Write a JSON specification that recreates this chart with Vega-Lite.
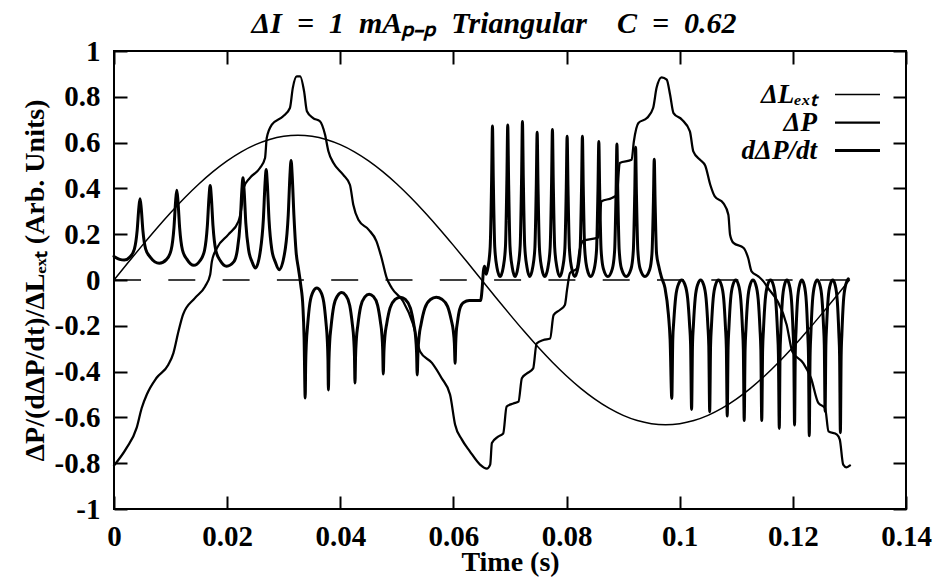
{
  "$schema": "https://vega.github.io/schema/vega-lite/v6.json",
  "width": 792,
  "height": 458,
  "autosize": {"type": "none"},
  "padding": {"left": 114, "top": 51, "right": 29, "bottom": 72},
  "background": "white",
  "title": {
    "text": "ΔI\u2002=\u20021\u2002mAₚ₋ₚ\u2002Triangular\u2003C\u2002=\u20020.62",
    "font": "Liberation Serif",
    "fontSize": 30,
    "fontStyle": "italic",
    "fontWeight": "bold",
    "color": "black",
    "frame": "group",
    "anchor": "middle",
    "dx": -16,
    "offset": -2
  },
  "config": {
    "view": {"stroke": "black", "strokeWidth": 2},
    "axis": {
      "domain": false,
      "grid": false,
      "ticks": true,
      "tickColor": "black",
      "tickWidth": 2,
      "tickSize": -13,
      "labelFont": "Liberation Serif",
      "labelFontWeight": "bold",
      "labelFontSize": 29,
      "labelColor": "black",
      "labelFlush": false,
      "labelOverlap": false,
      "labelBound": false,
      "titleFont": "Liberation Serif",
      "titleFontWeight": "bold",
      "titleFontSize": 28,
      "titleColor": "black"
    },
    "legend": {
      "orient": "top-right",
      "offset": 20,
      "padding": 0,
      "symbolType": "M-2,0H2",
      "symbolSize": 506,
      "symbolStrokeColor": "black",
      "labelFont": "Liberation Serif",
      "labelFontSize": 27,
      "labelFontStyle": "italic",
      "labelFontWeight": "bold",
      "labelColor": "black",
      "labelAlign": "right",
      "labelOffset": -54,
      "rowPadding": 0,
      "titleFontSize": 9,
      "titlePadding": 1
    }
  },
  "layer": [
    {
      "data": {"values": [{}]},
      "mark": {"type": "rule", "color": "black", "strokeWidth": 1.6, "strokeDash": [27, 27.3]},
      "encoding": {
        "x": {
          "datum": 0,
          "type": "quantitative",
          "scale": {"domain": [0, 0.14], "nice": false, "zero": false},
          "axis": {"orient": "top", "labels": false, "title": null, "values": [0, 0.02, 0.04, 0.06, 0.08, 0.1, 0.12, 0.14]}
        },
        "x2": {"datum": 0.13},
        "y": {
          "datum": 0,
          "type": "quantitative",
          "scale": {"domain": [-1, 1], "nice": false},
          "axis": {"orient": "right", "labels": false, "title": null, "values": [-1, -0.8, -0.6, -0.4, -0.2, 0, 0.2, 0.4, 0.6, 0.8, 1]}
        }
      }
    },
    {
      "data": {
        "values": [
          {"s": "ΔLₑₓₜ", "t": 0, "v": 0},
          {"s": "ΔLₑₓₜ", "t": 0.0025, "v": 0.0762},
          {"s": "ΔLₑₓₜ", "t": 0.005, "v": 0.1512},
          {"s": "ΔLₑₓₜ", "t": 0.0075, "v": 0.2241},
          {"s": "ΔLₑₓₜ", "t": 0.01, "v": 0.2937},
          {"s": "ΔLₑₓₜ", "t": 0.0125, "v": 0.359},
          {"s": "ΔLₑₓₜ", "t": 0.015, "v": 0.4191},
          {"s": "ΔLₑₓₜ", "t": 0.0175, "v": 0.4731},
          {"s": "ΔLₑₓₜ", "t": 0.02, "v": 0.5201},
          {"s": "ΔLₑₓₜ", "t": 0.0225, "v": 0.5596},
          {"s": "ΔLₑₓₜ", "t": 0.025, "v": 0.5909},
          {"s": "ΔLₑₓₜ", "t": 0.0275, "v": 0.6136},
          {"s": "ΔLₑₓₜ", "t": 0.03, "v": 0.6274},
          {"s": "ΔLₑₓₜ", "t": 0.0325, "v": 0.632},
          {"s": "ΔLₑₓₜ", "t": 0.035, "v": 0.6274},
          {"s": "ΔLₑₓₜ", "t": 0.0375, "v": 0.6136},
          {"s": "ΔLₑₓₜ", "t": 0.04, "v": 0.5909},
          {"s": "ΔLₑₓₜ", "t": 0.0425, "v": 0.5596},
          {"s": "ΔLₑₓₜ", "t": 0.045, "v": 0.5201},
          {"s": "ΔLₑₓₜ", "t": 0.0475, "v": 0.4731},
          {"s": "ΔLₑₓₜ", "t": 0.05, "v": 0.4191},
          {"s": "ΔLₑₓₜ", "t": 0.0525, "v": 0.359},
          {"s": "ΔLₑₓₜ", "t": 0.055, "v": 0.2937},
          {"s": "ΔLₑₓₜ", "t": 0.0575, "v": 0.2241},
          {"s": "ΔLₑₓₜ", "t": 0.06, "v": 0.1512},
          {"s": "ΔLₑₓₜ", "t": 0.0625, "v": 0.0762},
          {"s": "ΔLₑₓₜ", "t": 0.065, "v": 0},
          {"s": "ΔLₑₓₜ", "t": 0.0675, "v": -0.0762},
          {"s": "ΔLₑₓₜ", "t": 0.07, "v": -0.1512},
          {"s": "ΔLₑₓₜ", "t": 0.0725, "v": -0.2241},
          {"s": "ΔLₑₓₜ", "t": 0.075, "v": -0.2937},
          {"s": "ΔLₑₓₜ", "t": 0.0775, "v": -0.359},
          {"s": "ΔLₑₓₜ", "t": 0.08, "v": -0.4191},
          {"s": "ΔLₑₓₜ", "t": 0.0825, "v": -0.4731},
          {"s": "ΔLₑₓₜ", "t": 0.085, "v": -0.5201},
          {"s": "ΔLₑₓₜ", "t": 0.0875, "v": -0.5596},
          {"s": "ΔLₑₓₜ", "t": 0.09, "v": -0.5909},
          {"s": "ΔLₑₓₜ", "t": 0.0925, "v": -0.6136},
          {"s": "ΔLₑₓₜ", "t": 0.095, "v": -0.6274},
          {"s": "ΔLₑₓₜ", "t": 0.0975, "v": -0.632},
          {"s": "ΔLₑₓₜ", "t": 0.1, "v": -0.6274},
          {"s": "ΔLₑₓₜ", "t": 0.1025, "v": -0.6136},
          {"s": "ΔLₑₓₜ", "t": 0.105, "v": -0.5909},
          {"s": "ΔLₑₓₜ", "t": 0.1075, "v": -0.5596},
          {"s": "ΔLₑₓₜ", "t": 0.11, "v": -0.5201},
          {"s": "ΔLₑₓₜ", "t": 0.1125, "v": -0.4731},
          {"s": "ΔLₑₓₜ", "t": 0.115, "v": -0.4191},
          {"s": "ΔLₑₓₜ", "t": 0.1175, "v": -0.359},
          {"s": "ΔLₑₓₜ", "t": 0.12, "v": -0.2937},
          {"s": "ΔLₑₓₜ", "t": 0.1225, "v": -0.2241},
          {"s": "ΔLₑₓₜ", "t": 0.125, "v": -0.1512},
          {"s": "ΔLₑₓₜ", "t": 0.1275, "v": -0.0762},
          {"s": "ΔLₑₓₜ", "t": 0.13, "v": 0},

          {"s": "ΔP", "t": 0, "v": -0.81},
          {"s": "ΔP", "t": 0.0022, "v": -0.734},
          {"s": "ΔP", "t": 0.004, "v": -0.646},
          {"s": "ΔP", "t": 0.0049, "v": -0.559},
          {"s": "ΔP", "t": 0.0058, "v": -0.5},
          {"s": "ΔP", "t": 0.0075, "v": -0.428},
          {"s": "ΔP", "t": 0.0096, "v": -0.37},
          {"s": "ΔP", "t": 0.0105, "v": -0.319},
          {"s": "ΔP", "t": 0.0114, "v": -0.224},
          {"s": "ΔP", "t": 0.0122, "v": -0.151},
          {"s": "ΔP", "t": 0.0143, "v": -0.079},
          {"s": "ΔP", "t": 0.0161, "v": -0.028},
          {"s": "ΔP", "t": 0.017, "v": 0.023},
          {"s": "ΔP", "t": 0.0173, "v": 0.081},
          {"s": "ΔP", "t": 0.0182, "v": 0.14},
          {"s": "ΔP", "t": 0.0202, "v": 0.198},
          {"s": "ΔP", "t": 0.022, "v": 0.256},
          {"s": "ΔP", "t": 0.0226, "v": 0.329},
          {"s": "ΔP", "t": 0.0229, "v": 0.402},
          {"s": "ΔP", "t": 0.024, "v": 0.445},
          {"s": "ΔP", "t": 0.0258, "v": 0.489},
          {"s": "ΔP", "t": 0.0267, "v": 0.533},
          {"s": "ΔP", "t": 0.027, "v": 0.62},
          {"s": "ΔP", "t": 0.0279, "v": 0.678},
          {"s": "ΔP", "t": 0.0299, "v": 0.715},
          {"s": "ΔP", "t": 0.0311, "v": 0.751},
          {"s": "ΔP", "t": 0.0316, "v": 0.838},
          {"s": "ΔP", "t": 0.0323, "v": 0.889},
          {"s": "ΔP", "t": 0.0329, "v": 0.889},
          {"s": "ΔP", "t": 0.0336, "v": 0.824},
          {"s": "ΔP", "t": 0.0341, "v": 0.737},
          {"s": "ΔP", "t": 0.0352, "v": 0.707},
          {"s": "ΔP", "t": 0.0364, "v": 0.693},
          {"s": "ΔP", "t": 0.0373, "v": 0.635},
          {"s": "ΔP", "t": 0.0379, "v": 0.562},
          {"s": "ΔP", "t": 0.0388, "v": 0.511},
          {"s": "ΔP", "t": 0.0405, "v": 0.46},
          {"s": "ΔP", "t": 0.0417, "v": 0.416},
          {"s": "ΔP", "t": 0.0423, "v": 0.329},
          {"s": "ΔP", "t": 0.0432, "v": 0.263},
          {"s": "ΔP", "t": 0.045, "v": 0.22},
          {"s": "ΔP", "t": 0.0464, "v": 0.169},
          {"s": "ΔP", "t": 0.0473, "v": 0.096},
          {"s": "ΔP", "t": 0.0482, "v": 0.009},
          {"s": "ΔP", "t": 0.0491, "v": -0.035},
          {"s": "ΔP", "t": 0.0511, "v": -0.093},
          {"s": "ΔP", "t": 0.0529, "v": -0.195},
          {"s": "ΔP", "t": 0.0541, "v": -0.312},
          {"s": "ΔP", "t": 0.0562, "v": -0.362},
          {"s": "ΔP", "t": 0.0579, "v": -0.428},
          {"s": "ΔP", "t": 0.0594, "v": -0.5},
          {"s": "ΔP", "t": 0.0603, "v": -0.632},
          {"s": "ΔP", "t": 0.0615, "v": -0.697},
          {"s": "ΔP", "t": 0.0629, "v": -0.748},
          {"s": "ΔP", "t": 0.0647, "v": -0.806},
          {"s": "ΔP", "t": 0.0659, "v": -0.824},
          {"s": "ΔP", "t": 0.0665, "v": -0.806},
          {"s": "ΔP", "t": 0.0668, "v": -0.712},
          {"s": "ΔP", "t": 0.0679, "v": -0.684},
          {"s": "ΔP", "t": 0.0688, "v": -0.67},
          {"s": "ΔP", "t": 0.0694, "v": -0.553},
          {"s": "ΔP", "t": 0.0706, "v": -0.539},
          {"s": "ΔP", "t": 0.0715, "v": -0.531},
          {"s": "ΔP", "t": 0.0721, "v": -0.429},
          {"s": "ΔP", "t": 0.073, "v": -0.408},
          {"s": "ΔP", "t": 0.0741, "v": -0.386},
          {"s": "ΔP", "t": 0.0747, "v": -0.277},
          {"s": "ΔP", "t": 0.0759, "v": -0.262},
          {"s": "ΔP", "t": 0.0771, "v": -0.255},
          {"s": "ΔP", "t": 0.0777, "v": -0.153},
          {"s": "ΔP", "t": 0.0788, "v": -0.131},
          {"s": "ΔP", "t": 0.0797, "v": -0.109},
          {"s": "ΔP", "t": 0.0801, "v": -0.04},
          {"s": "ΔP", "t": 0.0806, "v": 0.03},
          {"s": "ΔP", "t": 0.0818, "v": 0.05},
          {"s": "ΔP", "t": 0.0823, "v": 0.13},
          {"s": "ΔP", "t": 0.083, "v": 0.172},
          {"s": "ΔP", "t": 0.0856, "v": 0.186},
          {"s": "ΔP", "t": 0.0862, "v": 0.344},
          {"s": "ΔP", "t": 0.088, "v": 0.358},
          {"s": "ΔP", "t": 0.0889, "v": 0.373},
          {"s": "ΔP", "t": 0.0894, "v": 0.511},
          {"s": "ΔP", "t": 0.0915, "v": 0.525},
          {"s": "ΔP", "t": 0.0919, "v": 0.606},
          {"s": "ΔP", "t": 0.0927, "v": 0.686},
          {"s": "ΔP", "t": 0.0942, "v": 0.707},
          {"s": "ΔP", "t": 0.0953, "v": 0.751},
          {"s": "ΔP", "t": 0.0959, "v": 0.838},
          {"s": "ΔP", "t": 0.0968, "v": 0.885},
          {"s": "ΔP", "t": 0.0977, "v": 0.875},
          {"s": "ΔP", "t": 0.0983, "v": 0.809},
          {"s": "ΔP", "t": 0.0989, "v": 0.729},
          {"s": "ΔP", "t": 0.1004, "v": 0.7},
          {"s": "ΔP", "t": 0.1018, "v": 0.649},
          {"s": "ΔP", "t": 0.1024, "v": 0.562},
          {"s": "ΔP", "t": 0.1036, "v": 0.525},
          {"s": "ΔP", "t": 0.1045, "v": 0.5},
          {"s": "ΔP", "t": 0.1054, "v": 0.416},
          {"s": "ΔP", "t": 0.1062, "v": 0.365},
          {"s": "ΔP", "t": 0.1077, "v": 0.336},
          {"s": "ΔP", "t": 0.1086, "v": 0.285},
          {"s": "ΔP", "t": 0.1089, "v": 0.198},
          {"s": "ΔP", "t": 0.1095, "v": 0.162},
          {"s": "ΔP", "t": 0.1113, "v": 0.14},
          {"s": "ΔP", "t": 0.1121, "v": 0.096},
          {"s": "ΔP", "t": 0.1127, "v": 0.038},
          {"s": "ΔP", "t": 0.1139, "v": 0.016},
          {"s": "ΔP", "t": 0.1148, "v": -0.006},
          {"s": "ΔP", "t": 0.1156, "v": -0.035},
          {"s": "ΔP", "t": 0.1173, "v": -0.093},
          {"s": "ΔP", "t": 0.1189, "v": -0.195},
          {"s": "ΔP", "t": 0.1199, "v": -0.312},
          {"s": "ΔP", "t": 0.1218, "v": -0.362},
          {"s": "ΔP", "t": 0.1232, "v": -0.428},
          {"s": "ΔP", "t": 0.1245, "v": -0.537},
          {"s": "ΔP", "t": 0.1257, "v": -0.559},
          {"s": "ΔP", "t": 0.1263, "v": -0.661},
          {"s": "ΔP", "t": 0.1278, "v": -0.675},
          {"s": "ΔP", "t": 0.1283, "v": -0.697},
          {"s": "ΔP", "t": 0.1289, "v": -0.806},
          {"s": "ΔP", "t": 0.1295, "v": -0.818},
          {"s": "ΔP", "t": 0.1301, "v": -0.81},

          {"s": "dΔP/dt", "t": 0, "v": 0.103},
          {"s": "dΔP/dt", "t": 0.001, "v": 0.09},
          {"s": "dΔP/dt", "t": 0.0018, "v": 0.087},
          {"s": "dΔP/dt", "t": 0.0028, "v": 0.1},
          {"s": "dΔP/dt", "t": 0.0036, "v": 0.135},
          {"s": "dΔP/dt", "t": 0.0041, "v": 0.218},
          {"s": "dΔP/dt", "t": 0.0044, "v": 0.317},
          {"s": "dΔP/dt", "t": 0.0046, "v": 0.355},
          {"s": "dΔP/dt", "t": 0.0048, "v": 0.317},
          {"s": "dΔP/dt", "t": 0.0051, "v": 0.218},
          {"s": "dΔP/dt", "t": 0.0056, "v": 0.135},
          {"s": "dΔP/dt", "t": 0.0064, "v": 0.1},
          {"s": "dΔP/dt", "t": 0.008, "v": 0.073},
          {"s": "dΔP/dt", "t": 0.0093, "v": 0.09},
          {"s": "dΔP/dt", "t": 0.0101, "v": 0.131},
          {"s": "dΔP/dt", "t": 0.0106, "v": 0.229},
          {"s": "dΔP/dt", "t": 0.0109, "v": 0.347},
          {"s": "dΔP/dt", "t": 0.0111, "v": 0.392},
          {"s": "dΔP/dt", "t": 0.0113, "v": 0.347},
          {"s": "dΔP/dt", "t": 0.0116, "v": 0.229},
          {"s": "dΔP/dt", "t": 0.0121, "v": 0.131},
          {"s": "dΔP/dt", "t": 0.0129, "v": 0.09},
          {"s": "dΔP/dt", "t": 0.0141, "v": 0.064},
          {"s": "dΔP/dt", "t": 0.0152, "v": 0.084},
          {"s": "dΔP/dt", "t": 0.016, "v": 0.129},
          {"s": "dΔP/dt", "t": 0.0165, "v": 0.236},
          {"s": "dΔP/dt", "t": 0.0168, "v": 0.364},
          {"s": "dΔP/dt", "t": 0.017, "v": 0.413},
          {"s": "dΔP/dt", "t": 0.0172, "v": 0.364},
          {"s": "dΔP/dt", "t": 0.0175, "v": 0.236},
          {"s": "dΔP/dt", "t": 0.018, "v": 0.129},
          {"s": "dΔP/dt", "t": 0.0188, "v": 0.084},
          {"s": "dΔP/dt", "t": 0.0199, "v": 0.06},
          {"s": "dΔP/dt", "t": 0.0212, "v": 0.08},
          {"s": "dΔP/dt", "t": 0.0218, "v": 0.131},
          {"s": "dΔP/dt", "t": 0.0223, "v": 0.249},
          {"s": "dΔP/dt", "t": 0.0226, "v": 0.392},
          {"s": "dΔP/dt", "t": 0.0228, "v": 0.446},
          {"s": "dΔP/dt", "t": 0.023, "v": 0.392},
          {"s": "dΔP/dt", "t": 0.0233, "v": 0.249},
          {"s": "dΔP/dt", "t": 0.0238, "v": 0.131},
          {"s": "dΔP/dt", "t": 0.0244, "v": 0.08},
          {"s": "dΔP/dt", "t": 0.025, "v": 0.052},
          {"s": "dΔP/dt", "t": 0.0259, "v": 0.132},
          {"s": "dΔP/dt", "t": 0.0264, "v": 0.264},
          {"s": "dΔP/dt", "t": 0.0267, "v": 0.422},
          {"s": "dΔP/dt", "t": 0.0269, "v": 0.482},
          {"s": "dΔP/dt", "t": 0.0271, "v": 0.422},
          {"s": "dΔP/dt", "t": 0.0274, "v": 0.264},
          {"s": "dΔP/dt", "t": 0.0279, "v": 0.132},
          {"s": "dΔP/dt", "t": 0.0285, "v": 0.08},
          {"s": "dΔP/dt", "t": 0.0292, "v": 0.045},
          {"s": "dΔP/dt", "t": 0.0303, "v": 0.14},
          {"s": "dΔP/dt", "t": 0.0308, "v": 0.284},
          {"s": "dΔP/dt", "t": 0.0311, "v": 0.456},
          {"s": "dΔP/dt", "t": 0.0313, "v": 0.522},
          {"s": "dΔP/dt", "t": 0.0315, "v": 0.456},
          {"s": "dΔP/dt", "t": 0.0318, "v": 0.284},
          {"s": "dΔP/dt", "t": 0.0322, "v": 0.12},
          {"s": "dΔP/dt", "t": 0.0326, "v": 0.05},
          {"s": "dΔP/dt", "t": 0.033, "v": -0.02},
          {"s": "dΔP/dt", "t": 0.0334, "v": -0.12},
          {"s": "dΔP/dt", "t": 0.0336, "v": -0.25},
          {"s": "dΔP/dt", "t": 0.0338, "v": -0.515},
          {"s": "dΔP/dt", "t": 0.03388, "v": -0.371},
          {"s": "dΔP/dt", "t": 0.034005, "v": -0.275},
          {"s": "dΔP/dt", "t": 0.03421, "v": -0.203},
          {"s": "dΔP/dt", "t": 0.03462, "v": -0.102},
          {"s": "dΔP/dt", "t": 0.035235, "v": -0.049},
          {"s": "dΔP/dt", "t": 0.03585, "v": -0.035},
          {"s": "dΔP/dt", "t": 0.036465, "v": -0.048},
          {"s": "dΔP/dt", "t": 0.03708, "v": -0.097},
          {"s": "dΔP/dt", "t": 0.03749, "v": -0.191},
          {"s": "dΔP/dt", "t": 0.037695, "v": -0.258},
          {"s": "dΔP/dt", "t": 0.03782, "v": -0.347},
          {"s": "dΔP/dt", "t": 0.0379, "v": -0.48},
          {"s": "dΔP/dt", "t": 0.037994, "v": -0.353},
          {"s": "dΔP/dt", "t": 0.038135, "v": -0.268},
          {"s": "dΔP/dt", "t": 0.03837, "v": -0.204},
          {"s": "dΔP/dt", "t": 0.03884, "v": -0.115},
          {"s": "dΔP/dt", "t": 0.039545, "v": -0.068},
          {"s": "dΔP/dt", "t": 0.04025, "v": -0.055},
          {"s": "dΔP/dt", "t": 0.040955, "v": -0.067},
          {"s": "dΔP/dt", "t": 0.04166, "v": -0.11},
          {"s": "dΔP/dt", "t": 0.04213, "v": -0.193},
          {"s": "dΔP/dt", "t": 0.042365, "v": -0.253},
          {"s": "dΔP/dt", "t": 0.042506, "v": -0.332},
          {"s": "dΔP/dt", "t": 0.0426, "v": -0.45},
          {"s": "dΔP/dt", "t": 0.0427, "v": -0.334},
          {"s": "dΔP/dt", "t": 0.04285, "v": -0.256},
          {"s": "dΔP/dt", "t": 0.0431, "v": -0.198},
          {"s": "dΔP/dt", "t": 0.0436, "v": -0.116},
          {"s": "dΔP/dt", "t": 0.04435, "v": -0.074},
          {"s": "dΔP/dt", "t": 0.0451, "v": -0.062},
          {"s": "dΔP/dt", "t": 0.04585, "v": -0.072},
          {"s": "dΔP/dt", "t": 0.0466, "v": -0.111},
          {"s": "dΔP/dt", "t": 0.0471, "v": -0.184},
          {"s": "dΔP/dt", "t": 0.04735, "v": -0.236},
          {"s": "dΔP/dt", "t": 0.0475, "v": -0.306},
          {"s": "dΔP/dt", "t": 0.0476, "v": -0.41},
          {"s": "dΔP/dt", "t": 0.04772, "v": -0.31},
          {"s": "dΔP/dt", "t": 0.0479, "v": -0.243},
          {"s": "dΔP/dt", "t": 0.0482, "v": -0.192},
          {"s": "dΔP/dt", "t": 0.0488, "v": -0.122},
          {"s": "dΔP/dt", "t": 0.0497, "v": -0.085},
          {"s": "dΔP/dt", "t": 0.0506, "v": -0.075},
          {"s": "dΔP/dt", "t": 0.0515, "v": -0.085},
          {"s": "dΔP/dt", "t": 0.0524, "v": -0.123},
          {"s": "dΔP/dt", "t": 0.053, "v": -0.194},
          {"s": "dΔP/dt", "t": 0.0533, "v": -0.245},
          {"s": "dΔP/dt", "t": 0.05348, "v": -0.313},
          {"s": "dΔP/dt", "t": 0.0536, "v": -0.415},
          {"s": "dΔP/dt", "t": 0.053734, "v": -0.313},
          {"s": "dΔP/dt", "t": 0.053935, "v": -0.245},
          {"s": "dΔP/dt", "t": 0.05427, "v": -0.194},
          {"s": "dΔP/dt", "t": 0.05494, "v": -0.123},
          {"s": "dΔP/dt", "t": 0.055945, "v": -0.085},
          {"s": "dΔP/dt", "t": 0.05695, "v": -0.075},
          {"s": "dΔP/dt", "t": 0.057955, "v": -0.084},
          {"s": "dΔP/dt", "t": 0.05896, "v": -0.115},
          {"s": "dΔP/dt", "t": 0.05963, "v": -0.176},
          {"s": "dΔP/dt", "t": 0.059965, "v": -0.22},
          {"s": "dΔP/dt", "t": 0.060166, "v": -0.277},
          {"s": "dΔP/dt", "t": 0.0603, "v": -0.364},
          {"s": "dΔP/dt", "t": 0.0604, "v": -0.28},
          {"s": "dΔP/dt", "t": 0.0605, "v": -0.227},
          {"s": "dΔP/dt", "t": 0.0607, "v": -0.186},
          {"s": "dΔP/dt", "t": 0.0611, "v": -0.128},
          {"s": "dΔP/dt", "t": 0.0618, "v": -0.098},
          {"s": "dΔP/dt", "t": 0.0628, "v": -0.09},
          {"s": "dΔP/dt", "t": 0.0648, "v": -0.09},
          {"s": "dΔP/dt", "t": 0.0651, "v": -0.03},
          {"s": "dΔP/dt", "t": 0.0653, "v": 0.04},
          {"s": "dΔP/dt", "t": 0.0655, "v": 0.06},
          {"s": "dΔP/dt", "t": 0.0658, "v": 0.025},
          {"s": "dΔP/dt", "t": 0.0661, "v": 0.054},
          {"s": "dΔP/dt", "t": 0.0665, "v": 0.146},
          {"s": "dΔP/dt", "t": 0.06675, "v": 0.435},
          {"s": "dΔP/dt", "t": 0.0669, "v": 0.672},
          {"s": "dΔP/dt", "t": 0.06705, "v": 0.435},
          {"s": "dΔP/dt", "t": 0.0673, "v": 0.146},
          {"s": "dΔP/dt", "t": 0.0677, "v": 0.054},
          {"s": "dΔP/dt", "t": 0.06825, "v": 0.015},
          {"s": "dΔP/dt", "t": 0.0688, "v": 0.055},
          {"s": "dΔP/dt", "t": 0.0692, "v": 0.147},
          {"s": "dΔP/dt", "t": 0.06945, "v": 0.439},
          {"s": "dΔP/dt", "t": 0.0696, "v": 0.677},
          {"s": "dΔP/dt", "t": 0.06975, "v": 0.439},
          {"s": "dΔP/dt", "t": 0.07, "v": 0.147},
          {"s": "dΔP/dt", "t": 0.0704, "v": 0.055},
          {"s": "dΔP/dt", "t": 0.0709, "v": 0.015},
          {"s": "dΔP/dt", "t": 0.0714, "v": 0.056},
          {"s": "dΔP/dt", "t": 0.0718, "v": 0.15},
          {"s": "dΔP/dt", "t": 0.07205, "v": 0.448},
          {"s": "dΔP/dt", "t": 0.0722, "v": 0.692},
          {"s": "dΔP/dt", "t": 0.07235, "v": 0.448},
          {"s": "dΔP/dt", "t": 0.0726, "v": 0.15},
          {"s": "dΔP/dt", "t": 0.073, "v": 0.056},
          {"s": "dΔP/dt", "t": 0.0735, "v": 0.015},
          {"s": "dΔP/dt", "t": 0.074, "v": 0.053},
          {"s": "dΔP/dt", "t": 0.0744, "v": 0.141},
          {"s": "dΔP/dt", "t": 0.07465, "v": 0.418},
          {"s": "dΔP/dt", "t": 0.0748, "v": 0.645},
          {"s": "dΔP/dt", "t": 0.07495, "v": 0.418},
          {"s": "dΔP/dt", "t": 0.0752, "v": 0.141},
          {"s": "dΔP/dt", "t": 0.0756, "v": 0.053},
          {"s": "dΔP/dt", "t": 0.07615, "v": 0.015},
          {"s": "dΔP/dt", "t": 0.0767, "v": 0.054},
          {"s": "dΔP/dt", "t": 0.0771, "v": 0.143},
          {"s": "dΔP/dt", "t": 0.07735, "v": 0.426},
          {"s": "dΔP/dt", "t": 0.0775, "v": 0.657},
          {"s": "dΔP/dt", "t": 0.07765, "v": 0.426},
          {"s": "dΔP/dt", "t": 0.0779, "v": 0.143},
          {"s": "dΔP/dt", "t": 0.0783, "v": 0.054},
          {"s": "dΔP/dt", "t": 0.0788, "v": 0.015},
          {"s": "dΔP/dt", "t": 0.0793, "v": 0.052},
          {"s": "dΔP/dt", "t": 0.0797, "v": 0.138},
          {"s": "dΔP/dt", "t": 0.07995, "v": 0.407},
          {"s": "dΔP/dt", "t": 0.0801, "v": 0.628},
          {"s": "dΔP/dt", "t": 0.08025, "v": 0.407},
          {"s": "dΔP/dt", "t": 0.0805, "v": 0.138},
          {"s": "dΔP/dt", "t": 0.0809, "v": 0.052},
          {"s": "dΔP/dt", "t": 0.08145, "v": 0.015},
          {"s": "dΔP/dt", "t": 0.082, "v": 0.052},
          {"s": "dΔP/dt", "t": 0.0824, "v": 0.138},
          {"s": "dΔP/dt", "t": 0.08265, "v": 0.407},
          {"s": "dΔP/dt", "t": 0.0828, "v": 0.628},
          {"s": "dΔP/dt", "t": 0.08295, "v": 0.407},
          {"s": "dΔP/dt", "t": 0.0832, "v": 0.138},
          {"s": "dΔP/dt", "t": 0.0836, "v": 0.052},
          {"s": "dΔP/dt", "t": 0.08425, "v": 0.015},
          {"s": "dΔP/dt", "t": 0.0849, "v": 0.05},
          {"s": "dΔP/dt", "t": 0.0853, "v": 0.133},
          {"s": "dΔP/dt", "t": 0.08555, "v": 0.393},
          {"s": "dΔP/dt", "t": 0.0857, "v": 0.605},
          {"s": "dΔP/dt", "t": 0.08585, "v": 0.393},
          {"s": "dΔP/dt", "t": 0.0861, "v": 0.133},
          {"s": "dΔP/dt", "t": 0.0865, "v": 0.05},
          {"s": "dΔP/dt", "t": 0.0873, "v": 0.015},
          {"s": "dΔP/dt", "t": 0.0881, "v": 0.05},
          {"s": "dΔP/dt", "t": 0.0885, "v": 0.131},
          {"s": "dΔP/dt", "t": 0.08875, "v": 0.386},
          {"s": "dΔP/dt", "t": 0.0889, "v": 0.594},
          {"s": "dΔP/dt", "t": 0.08905, "v": 0.386},
          {"s": "dΔP/dt", "t": 0.0893, "v": 0.131},
          {"s": "dΔP/dt", "t": 0.0897, "v": 0.05},
          {"s": "dΔP/dt", "t": 0.09055, "v": 0.015},
          {"s": "dΔP/dt", "t": 0.0914, "v": 0.049},
          {"s": "dΔP/dt", "t": 0.0918, "v": 0.128},
          {"s": "dΔP/dt", "t": 0.09205, "v": 0.377},
          {"s": "dΔP/dt", "t": 0.0922, "v": 0.58},
          {"s": "dΔP/dt", "t": 0.09235, "v": 0.377},
          {"s": "dΔP/dt", "t": 0.0926, "v": 0.128},
          {"s": "dΔP/dt", "t": 0.093, "v": 0.049},
          {"s": "dΔP/dt", "t": 0.09385, "v": 0.015},
          {"s": "dΔP/dt", "t": 0.0947, "v": 0.046},
          {"s": "dΔP/dt", "t": 0.0951, "v": 0.117},
          {"s": "dΔP/dt", "t": 0.09535, "v": 0.343},
          {"s": "dΔP/dt", "t": 0.0955, "v": 0.527},
          {"s": "dΔP/dt", "t": 0.09565, "v": 0.343},
          {"s": "dΔP/dt", "t": 0.0959, "v": 0.117},
          {"s": "dΔP/dt", "t": 0.0963, "v": 0.06},
          {"s": "dΔP/dt", "t": 0.0968, "v": 0.01},
          {"s": "dΔP/dt", "t": 0.0974, "v": -0.035},
          {"s": "dΔP/dt", "t": 0.098, "v": -0.15},
          {"s": "dΔP/dt", "t": 0.0983, "v": -0.26},
          {"s": "dΔP/dt", "t": 0.0986, "v": -0.517},
          {"s": "dΔP/dt", "t": 0.098775, "v": -0.2585},
          {"s": "dΔP/dt", "t": 0.09895, "v": -0.181},
          {"s": "dΔP/dt", "t": 0.0993, "v": -0.072},
          {"s": "dΔP/dt", "t": 0.099825, "v": -0.0155},
          {"s": "dΔP/dt", "t": 0.10035, "v": 0},
          {"s": "dΔP/dt", "t": 0.100875, "v": -0.017},
          {"s": "dΔP/dt", "t": 0.1014, "v": -0.079},
          {"s": "dΔP/dt", "t": 0.10175, "v": -0.198},
          {"s": "dΔP/dt", "t": 0.101925, "v": -0.2825},
          {"s": "dΔP/dt", "t": 0.1021, "v": -0.565},
          {"s": "dΔP/dt", "t": 0.10226, "v": -0.2825},
          {"s": "dΔP/dt", "t": 0.10242, "v": -0.198},
          {"s": "dΔP/dt", "t": 0.10274, "v": -0.079},
          {"s": "dΔP/dt", "t": 0.10322, "v": -0.017},
          {"s": "dΔP/dt", "t": 0.1037, "v": 0},
          {"s": "dΔP/dt", "t": 0.10418, "v": -0.017},
          {"s": "dΔP/dt", "t": 0.10466, "v": -0.0805},
          {"s": "dΔP/dt", "t": 0.10498, "v": -0.201},
          {"s": "dΔP/dt", "t": 0.10514, "v": -0.2875},
          {"s": "dΔP/dt", "t": 0.1053, "v": -0.575},
          {"s": "dΔP/dt", "t": 0.105455, "v": -0.2875},
          {"s": "dΔP/dt", "t": 0.10561, "v": -0.201},
          {"s": "dΔP/dt", "t": 0.10592, "v": -0.0805},
          {"s": "dΔP/dt", "t": 0.106385, "v": -0.017},
          {"s": "dΔP/dt", "t": 0.10685, "v": 0},
          {"s": "dΔP/dt", "t": 0.107315, "v": -0.018},
          {"s": "dΔP/dt", "t": 0.10778, "v": -0.083},
          {"s": "dΔP/dt", "t": 0.10809, "v": -0.208},
          {"s": "dΔP/dt", "t": 0.108245, "v": -0.297},
          {"s": "dΔP/dt", "t": 0.1084, "v": -0.594},
          {"s": "dΔP/dt", "t": 0.10855, "v": -0.297},
          {"s": "dΔP/dt", "t": 0.1087, "v": -0.208},
          {"s": "dΔP/dt", "t": 0.109, "v": -0.083},
          {"s": "dΔP/dt", "t": 0.10945, "v": -0.018},
          {"s": "dΔP/dt", "t": 0.1099, "v": 0},
          {"s": "dΔP/dt", "t": 0.11035, "v": -0.018},
          {"s": "dΔP/dt", "t": 0.1108, "v": -0.086},
          {"s": "dΔP/dt", "t": 0.1111, "v": -0.215},
          {"s": "dΔP/dt", "t": 0.11125, "v": -0.307},
          {"s": "dΔP/dt", "t": 0.1114, "v": -0.614},
          {"s": "dΔP/dt", "t": 0.111555, "v": -0.307},
          {"s": "dΔP/dt", "t": 0.11171, "v": -0.215},
          {"s": "dΔP/dt", "t": 0.11202, "v": -0.086},
          {"s": "dΔP/dt", "t": 0.112485, "v": -0.018},
          {"s": "dΔP/dt", "t": 0.11295, "v": 0},
          {"s": "dΔP/dt", "t": 0.113415, "v": -0.018},
          {"s": "dΔP/dt", "t": 0.11388, "v": -0.086},
          {"s": "dΔP/dt", "t": 0.11419, "v": -0.215},
          {"s": "dΔP/dt", "t": 0.114345, "v": -0.307},
          {"s": "dΔP/dt", "t": 0.1145, "v": -0.614},
          {"s": "dΔP/dt", "t": 0.114655, "v": -0.307},
          {"s": "dΔP/dt", "t": 0.11481, "v": -0.215},
          {"s": "dΔP/dt", "t": 0.11512, "v": -0.086},
          {"s": "dΔP/dt", "t": 0.115585, "v": -0.018},
          {"s": "dΔP/dt", "t": 0.11605, "v": 0},
          {"s": "dΔP/dt", "t": 0.116515, "v": -0.019},
          {"s": "dΔP/dt", "t": 0.11698, "v": -0.091},
          {"s": "dΔP/dt", "t": 0.11729, "v": -0.227},
          {"s": "dΔP/dt", "t": 0.117445, "v": -0.324},
          {"s": "dΔP/dt", "t": 0.1176, "v": -0.648},
          {"s": "dΔP/dt", "t": 0.117735, "v": -0.324},
          {"s": "dΔP/dt", "t": 0.11787, "v": -0.227},
          {"s": "dΔP/dt", "t": 0.11814, "v": -0.091},
          {"s": "dΔP/dt", "t": 0.118545, "v": -0.019},
          {"s": "dΔP/dt", "t": 0.11895, "v": 0},
          {"s": "dΔP/dt", "t": 0.119355, "v": -0.019},
          {"s": "dΔP/dt", "t": 0.11976, "v": -0.089},
          {"s": "dΔP/dt", "t": 0.12003, "v": -0.222},
          {"s": "dΔP/dt", "t": 0.120165, "v": -0.317},
          {"s": "dΔP/dt", "t": 0.1203, "v": -0.633},
          {"s": "dΔP/dt", "t": 0.12043, "v": -0.317},
          {"s": "dΔP/dt", "t": 0.12056, "v": -0.222},
          {"s": "dΔP/dt", "t": 0.12082, "v": -0.089},
          {"s": "dΔP/dt", "t": 0.12121, "v": -0.019},
          {"s": "dΔP/dt", "t": 0.1216, "v": 0},
          {"s": "dΔP/dt", "t": 0.12199, "v": -0.02},
          {"s": "dΔP/dt", "t": 0.12238, "v": -0.095},
          {"s": "dΔP/dt", "t": 0.12264, "v": -0.238},
          {"s": "dΔP/dt", "t": 0.12277, "v": -0.34},
          {"s": "dΔP/dt", "t": 0.1229, "v": -0.68},
          {"s": "dΔP/dt", "t": 0.12304, "v": -0.34},
          {"s": "dΔP/dt", "t": 0.12318, "v": -0.238},
          {"s": "dΔP/dt", "t": 0.12346, "v": -0.095},
          {"s": "dΔP/dt", "t": 0.12388, "v": -0.02},
          {"s": "dΔP/dt", "t": 0.1243, "v": 0},
          {"s": "dΔP/dt", "t": 0.12472, "v": -0.017},
          {"s": "dΔP/dt", "t": 0.12514, "v": -0.08},
          {"s": "dΔP/dt", "t": 0.12542, "v": -0.2},
          {"s": "dΔP/dt", "t": 0.12556, "v": -0.287},
          {"s": "dΔP/dt", "t": 0.1257, "v": -0.573},
          {"s": "dΔP/dt", "t": 0.125835, "v": -0.287},
          {"s": "dΔP/dt", "t": 0.12597, "v": -0.2},
          {"s": "dΔP/dt", "t": 0.12624, "v": -0.08},
          {"s": "dΔP/dt", "t": 0.126645, "v": -0.017},
          {"s": "dΔP/dt", "t": 0.12705, "v": 0},
          {"s": "dΔP/dt", "t": 0.127455, "v": -0.02},
          {"s": "dΔP/dt", "t": 0.12786, "v": -0.093},
          {"s": "dΔP/dt", "t": 0.12813, "v": -0.233},
          {"s": "dΔP/dt", "t": 0.128265, "v": -0.334},
          {"s": "dΔP/dt", "t": 0.1284, "v": -0.667},
          {"s": "dΔP/dt", "t": 0.128535, "v": -0.334},
          {"s": "dΔP/dt", "t": 0.12867, "v": -0.233},
          {"s": "dΔP/dt", "t": 0.12894, "v": -0.093},
          {"s": "dΔP/dt", "t": 0.12935, "v": -0.02},
          {"s": "dΔP/dt", "t": 0.1298, "v": 0.005}
        ]
      },
      "mark": {"type": "line", "color": "black", "strokeCap": "round", "strokeJoin": "round", "interpolate": "monotone"},
      "encoding": {
        "x": {
          "field": "t",
          "type": "quantitative",
          "scale": {"domain": [0, 0.14], "nice": false, "zero": false},
          "axis": {
            "orient": "bottom",
            "title": "Time (s)",
            "titlePadding": -3,
            "labelPadding": 26,
            "values": [0, 0.02, 0.04, 0.06, 0.08, 0.1, 0.12, 0.14],
            "labelExpr": "format(datum.value, '~g')"
          }
        },
        "y": {
          "field": "v",
          "type": "quantitative",
          "scale": {"domain": [-1, 1], "nice": false},
          "axis": {
            "orient": "left",
            "title": "ΔP/(dΔP/dt)/ΔLₑₓₜ (Arb. Units)",
            "titlePadding": 5,
            "labelPadding": 27,
            "values": [-1, -0.8, -0.6, -0.4, -0.2, 0, 0.2, 0.4, 0.6, 0.8, 1],
            "labelExpr": "replace(format(datum.value, '~g'), '−', '-')"
          }
        },
        "strokeWidth": {
          "field": "s",
          "type": "ordinal",
          "scale": {"domain": ["ΔLₑₓₜ", "ΔP", "dΔP/dt"], "range": [1.5, 3, 4]},
          "legend": {"title": "\u00a0"}
        }
      }
    }
  ]
}
